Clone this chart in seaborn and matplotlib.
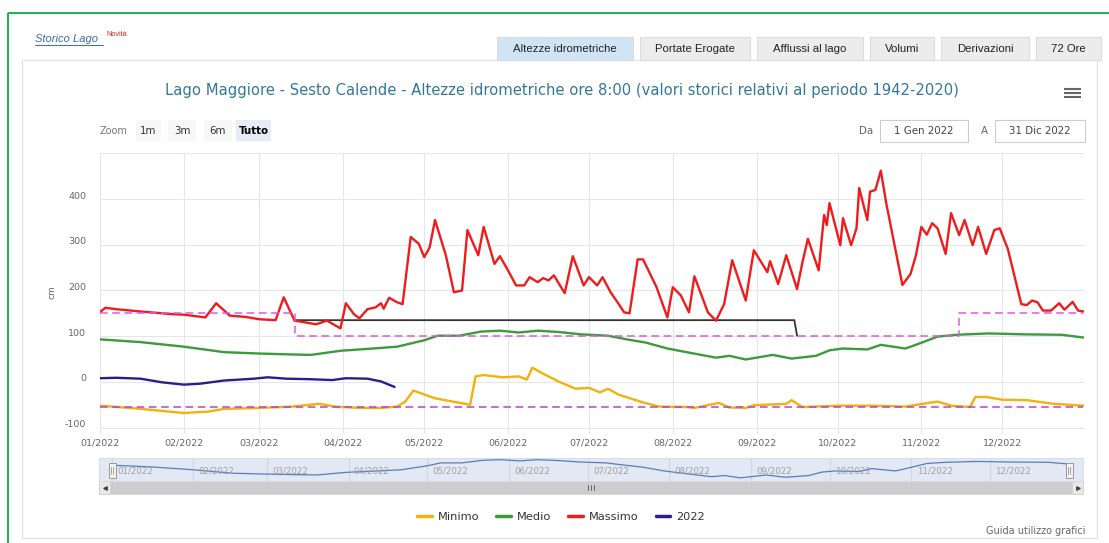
import pandas as pd
import matplotlib.pyplot as plt
from matplotlib.patches import Rectangle
from matplotlib.lines import Line2D
from matplotlib.transforms import ScaledTranslation, blended_transform_factory
import seaborn as sns

W, H = 1109, 543
INIZIO = pd.Timestamp('2022-01-01')

# livelli: giorni dal 1 gennaio 2022, valori in cm
max_day = [0, 2, 6, 15, 27, 31, 39, 43, 48, 54, 59, 65, 68, 72, 76, 80, 84, 89, 91, 94,
           96, 99, 102, 104, 105, 107, 110, 112, 115, 118, 120, 122, 124, 128, 131, 134,
           136, 140, 142, 146, 148, 151, 154, 157, 159, 162, 164, 166, 168, 172, 175, 179,
           181, 184, 186, 189, 192, 194, 196, 199, 201, 206, 210, 212, 215, 218, 220, 225,
           228, 231, 234, 239, 242, 247, 248, 251, 254, 258, 260, 262, 266, 268, 269, 270,
           274, 275, 278, 280, 281, 284, 285, 287, 289, 291, 297, 300, 302, 304, 306, 308,
           310, 313, 315, 318, 320, 323, 325, 328, 331, 333, 336, 341, 343, 345, 347, 349,
           352, 355, 357, 360, 362, 364]
max_cm = [153, 162, 159, 154, 148, 147, 141, 172, 145, 142, 137, 135, 185, 134, 130, 126, 134, 117, 172, 148,
          139, 159, 163, 172, 160, 184, 174, 170, 317, 302, 273, 294, 354, 277, 196, 200,
          332, 277, 339, 258, 275, 244, 211, 211, 229, 218, 227, 222, 233, 194, 275, 211,
          229, 211, 229, 196, 170, 152, 150, 268, 268, 207, 141, 207, 189, 152, 231, 152,
          134, 170, 266, 178, 288, 240, 264, 214, 277, 203, 262, 313, 244, 365, 343, 391,
          299, 358, 299, 336, 424, 354, 416, 420, 462, 391, 212, 236, 277, 339, 322, 347,
          336, 280, 369, 321, 354, 299, 339, 280, 332, 336, 291, 170, 168, 178, 174, 156,
          156, 172, 158, 175, 156, 154]

med_day = [0, 15, 31, 46, 59, 71, 78, 89, 101, 110, 120, 125, 133, 141, 148, 155, 162, 170,
           178, 188, 195, 202, 210, 218, 228, 233, 239, 243, 249, 256, 265, 270, 275, 284,
           289, 298, 301, 310, 317, 329, 342, 356, 364]
med_cm = [93, 87, 77, 65, 62, 60, 59, 68, 73, 77, 91, 101, 101, 110, 112, 108, 112, 109,
          104, 101, 93, 86, 73, 64, 53, 57, 49, 53, 59, 51, 57, 69, 73, 71,
          81, 73, 79, 99, 103, 106, 104, 103, 97]

min_day = [0, 15, 31, 40, 46, 59, 71, 81, 87, 96, 104, 110, 113, 116, 124, 137, 139, 142,
           149, 155, 158, 160, 164, 170, 176, 181, 185, 188, 192, 201, 207, 217, 220, 229,
           233, 239, 242, 254, 256, 260, 274, 286, 298, 310, 315, 322, 324, 328, 334, 343,
           353, 364]
min_cm = [-52, -59, -68, -65, -59, -57, -54, -48, -54, -57, -57, -54, -43, -19, -36, -50, 12, 15,
          10, 12, 5, 31, 18, 0, -15, -13, -23, -15, -28, -45, -54, -55, -57, -46,
          -56, -57, -51, -48, -40, -55, -52, -52, -54, -43, -52, -55, -33, -33, -39, -40,
          -48, -52]

anno_day = [0, 6, 15, 23, 31, 37, 46, 57, 62, 69, 77, 86, 91, 99, 104, 109]
anno_cm = [8, 9, 7, -1, -6, -4, 3, 7, 10, 7, 6, 4, 8, 7, 1, -11]

# limiti di regolazione
sup_day = [0, 72, 72, 318, 318, 364]
sup_cm = [150, 150, 100, 100, 150, 150]
inf_day = [0, 364]
inf_cm = [-54, -54]
nera_day = [72, 257, 258]
nera_cm = [135, 135, 101]

y_ticks = [-100, 0, 100, 200, 300, 400]
mesi = ['01/2022', '02/2022', '03/2022', '04/2022', '05/2022', '06/2022',
        '07/2022', '08/2022', '09/2022', '10/2022', '11/2022', '12/2022']
tabs = ['Altezze idrometriche', 'Portate Erogate', 'Afflussi al lago', 'Volumi', 'Derivazioni', '72 Ore']
legenda = ['Minimo', 'Medio', 'Massimo', '2022']
colori = {'Minimo': '#f2b10c', 'Medio': '#3d9a3d', 'Massimo': '#ee1c1c', '2022': '#2b1d8c'}


def serie(giorni, valori):
    return pd.DataFrame({'data': INIZIO + pd.to_timedelta(giorni, unit='D'), 'cm': valori})


sns.set_style('white')
plt.rcParams['font.family'] = ['DejaVu Sans']

fig = plt.figure(figsize=(W / 100, H / 100), dpi=100)

# sfondo in coordinate pixel
bg = fig.add_axes([0, 0, 1, 1], zorder=0)
bg.set_xlim(0, W)
bg.set_ylim(H, 0)
bg.axis('off')
bg.add_patch(Rectangle((8, 13), 1120, 560, fill=False, ec='#1fb04c', lw=1.4))
bg.add_patch(Rectangle((22, 60), 1075, 478, fc='white', ec='#e4e4e4', lw=1))
tab_x = [(497, 633), (640, 750), (757, 863), (870, 934), (941, 1029), (1036, 1101)]
for i, (t, (x0, x1)) in enumerate(zip(tabs, tab_x)):
    bg.add_patch(Rectangle((x0, 37), x1 - x0, 23, fc='#cfe5f6' if i == 0 else '#ececec',
                           ec='#dcdcdc', lw=0.8))
    bg.text((x0 + x1) / 2, 49, t, ha='center', va='center', fontsize=8.2,
            family='Liberation Sans', color='#222222')
bg.text(35, 39, 'Storico Lago', fontsize=8, style='italic', color='#3a6ab0',
        va='center', family='Liberation Sans')
bg.plot([35, 103], [45, 45], color='#3a6ab0', lw=0.7)
bg.text(106, 34, 'Novità', fontsize=5.2, color='#e02222', va='center', family='Liberation Sans')

bg.text(562, 90, 'Lago Maggiore - Sesto Calende - Altezze idrometriche ore 8:00 '
        '(valori storici relativi al periodo 1942-2020)',
        ha='center', va='center', fontsize=10.6, color='#32779a')
for yy in (89, 93, 97):
    bg.plot([1064, 1081], [yy, yy], color='#666666', lw=1.5, solid_capstyle='butt')

bg.text(100, 131, 'Zoom', fontsize=7, color='#777777', va='center')
for lab, x0, x1 in [('1m', 136, 161), ('3m', 168, 196), ('6m', 204, 232), ('Tutto', 236, 271)]:
    sel = lab == 'Tutto'
    bg.add_patch(Rectangle((x0, 120), x1 - x0, 21, fc='#e6ebf5' if sel else '#f7f7f7', ec='none'))
    bg.text((x0 + x1) / 2, 130.5, lab, ha='center', va='center', fontsize=7.4,
            color='#000000' if sel else '#333333', weight='bold' if sel else 'normal')
bg.text(866, 131, 'Da', ha='center', va='center', fontsize=7.4, color='#666666')
bg.add_patch(Rectangle((880, 120), 88, 22, fc='white', ec='#cccccc', lw=0.8))
bg.text(924, 131, '1 Gen 2022', ha='center', va='center', fontsize=7.4, color='#444444')
bg.text(984, 131, 'A', ha='center', va='center', fontsize=7.4, color='#666666')
bg.add_patch(Rectangle((995, 120), 90, 22, fc='white', ec='#cccccc', lw=0.8))
bg.text(1040, 131, '31 Dic 2022', ha='center', va='center', fontsize=7.4, color='#444444')
bg.text(52, 292, 'cm', rotation=90, ha='center', va='center', fontsize=6.5, color='#666666')
bg.text(1085, 531, 'Guida utilizzo grafici', ha='right', va='center', fontsize=7, color='#666666')

# grafico principale
ax = fig.add_axes([100 / W, 1 - 434 / H, 984 / W, (434 - 153.3) / H], zorder=2)
ax.set_facecolor('white')
sns.lineplot(data=serie(nera_day, nera_cm), x='data', y='cm', ax=ax, color='#333333',
             lw=1.3, estimator=None, sort=False, zorder=2)
for nome, gg, vv in [('Medio', med_day, med_cm), ('Minimo', min_day, min_cm),
                     ('2022', anno_day, anno_cm), ('Massimo', max_day, max_cm)]:
    sns.lineplot(data=serie(gg, vv), x='data', y='cm', ax=ax, color=colori[nome],
                 lw=1.7, estimator=None, sort=False, zorder=3)
sns.lineplot(data=serie(sup_day, sup_cm), x='data', y='cm', ax=ax, color='#e058e0',
             lw=1.1, linestyle=(0, (5, 3)), estimator=None, sort=False, zorder=4)
sns.lineplot(data=serie(inf_day, inf_cm), x='data', y='cm', ax=ax, color='#c23ad6',
             lw=1.1, linestyle=(0, (5, 3)), estimator=None, sort=False, zorder=4)

mesi_date = pd.date_range(INIZIO, periods=12, freq='MS')
ax.set_xlim(INIZIO, INIZIO + pd.Timedelta(days=364.2))
ax.set_ylim(-114, 500)
ax.set_xticks(mesi_date)
ax.set_xticklabels(mesi)
ax.set_yticks(y_ticks)
ax.set_yticklabels([str(v) for v in y_ticks])
ax.set_xlabel('')
ax.set_ylabel('')
ax.grid(True, color='#e6e6e6', lw=0.8)
ax.axhline(500, color='#e6e6e6', lw=0.8)
for s in ax.spines.values():
    s.set_visible(False)
ax.tick_params(axis='x', length=3, color='#e6e6e6', pad=0.5, labelsize=6.8, labelcolor='#666666')
ax.tick_params(axis='y', length=0, pad=10, labelsize=6.8, labelcolor='#666666')
for t in ax.get_yticklabels():
    t.set_transform(t.get_transform() + ScaledTranslation(0, 0.04, fig.dpi_scale_trans))

# navigatore
nav = fig.add_axes([99 / W, 1 - 481 / H, 984 / W, 23 / H], zorder=2)
nav.set_facecolor('#e2e8f4')
sns.lineplot(data=serie(med_day, med_cm), x='data', y='cm', ax=nav, color='#5a7cbf',
             lw=0.9, estimator=None, sort=False)
nav.set_xlim(INIZIO - pd.Timedelta(days=4.9), INIZIO + pd.Timedelta(days=369.3))
nav.set_ylim(38, 118)
nav.set_xticks(mesi_date)
nav.set_yticks([])
nav.set_xticklabels([])
nav.tick_params(length=0)
nav.set_xlabel('')
nav.set_ylabel('')
nav.grid(True, axis='x', color='#cfd7e6', lw=0.8)
for s in nav.spines.values():
    s.set_color('#d5dbe6')
    s.set_linewidth(0.6)
tr = blended_transform_factory(nav.transData, nav.transAxes)
for d, lab in zip(mesi_date, mesi):
    nav.text(d + pd.Timedelta(days=2), 0.45, lab, transform=tr, fontsize=6.2,
             color='#a0a0a0', va='center')

# barra di scorrimento
bg.add_patch(Rectangle((99, 481), 984, 13, fc='#cdcdcd', ec='#d8d8d8', lw=0.6))
bg.add_patch(Rectangle((99, 481), 11, 13, fc='#e8e8e8', ec='#d0d0d0', lw=0.6))
bg.add_patch(Rectangle((1072, 481), 11, 13, fc='#e8e8e8', ec='#d0d0d0', lw=0.6))
bg.plot([104.5], [487.5], marker='<', ms=2.5, color='#444444')
bg.plot([1077.5], [487.5], marker='>', ms=2.5, color='#444444')
for xg in (588, 591, 594):
    bg.plot([xg, xg], [485, 490], color='#555555', lw=0.6)

# maniglie sopra al navigatore
over = fig.add_axes([0, 0, 1, 1], zorder=3)
over.set_xlim(0, W)
over.set_ylim(H, 0)
over.axis('off')
for xh in (112, 1069):
    over.add_patch(Rectangle((xh - 3.5, 463), 7, 15, fc='#f2f2f2', ec='#999999', lw=0.7))
    over.plot([xh - 1, xh - 1], [467, 474], color='#999999', lw=0.6)
    over.plot([xh + 1, xh + 1], [467, 474], color='#999999', lw=0.6)

handles = [Line2D([], [], color=colori[n], lw=2.5) for n in legenda]
leg = fig.legend(handles, legenda, loc='center', bbox_to_anchor=(561 / W, 1 - 517 / H), ncol=4,
                 frameon=False, fontsize=8.2, handlelength=1.3, handletextpad=0.5,
                 columnspacing=1.5)
for t in leg.get_texts():
    t.set_color('#333333')

fig.savefig('out.png', dpi=100, facecolor='white')
